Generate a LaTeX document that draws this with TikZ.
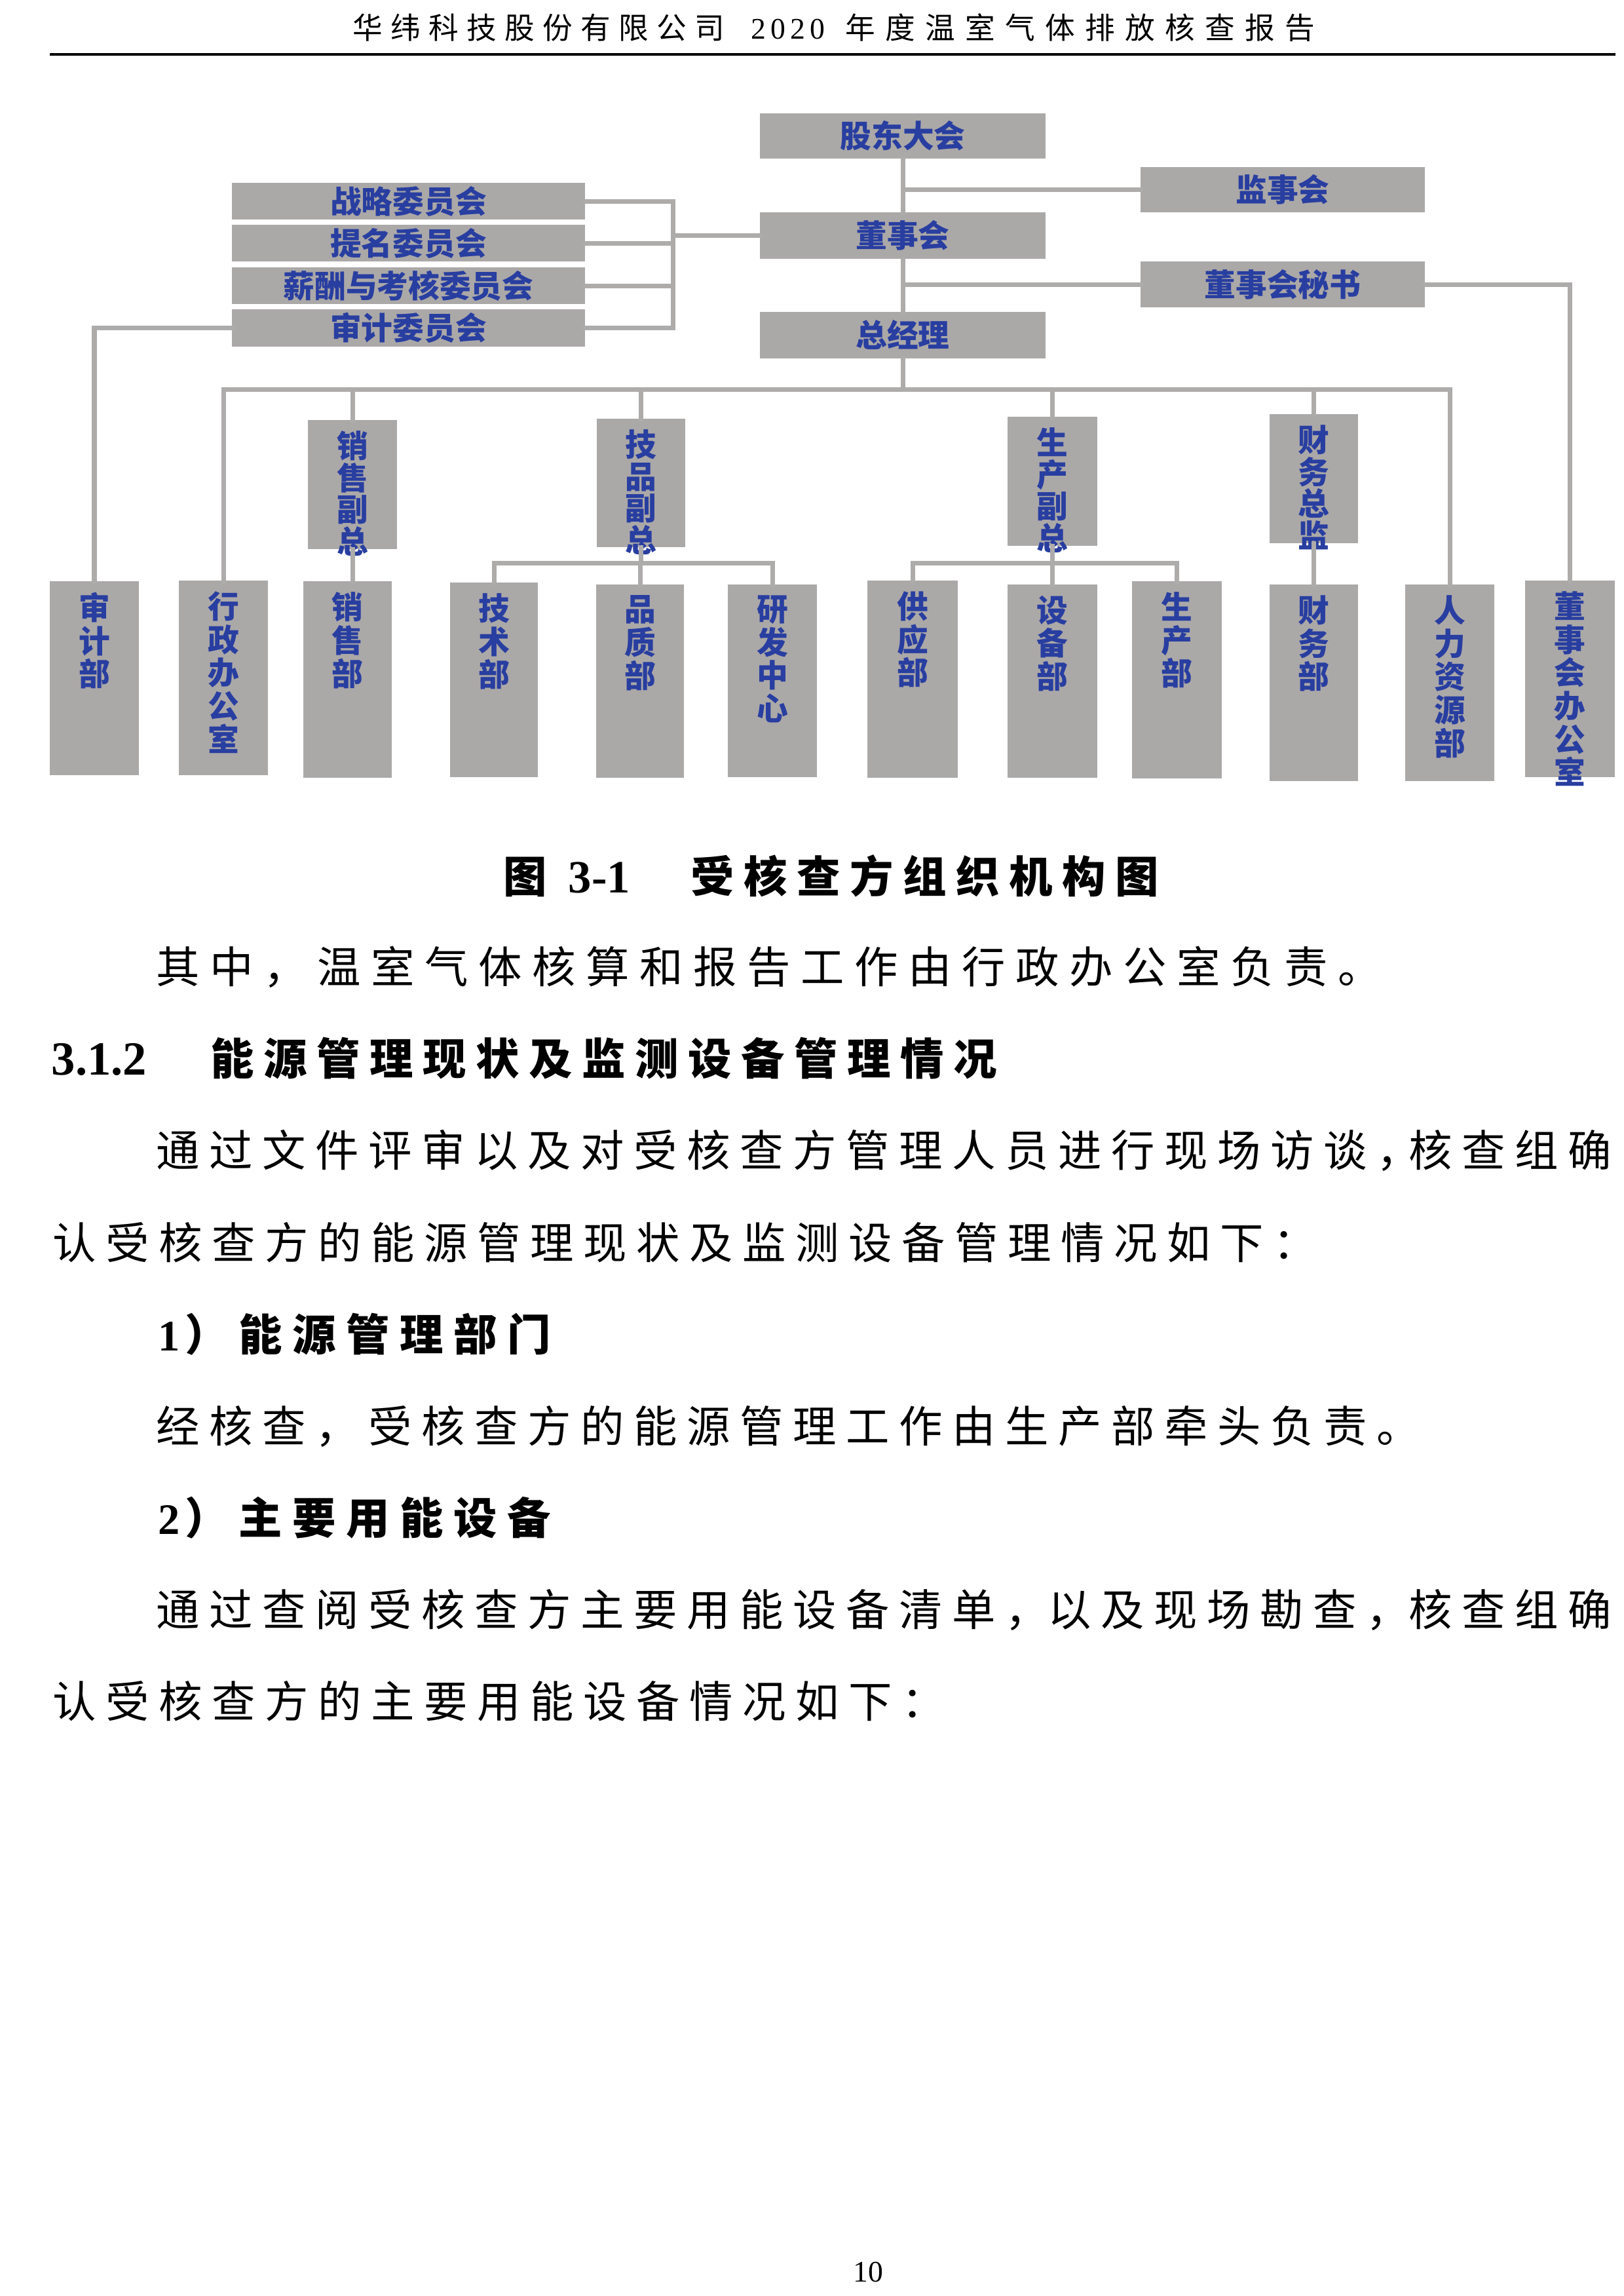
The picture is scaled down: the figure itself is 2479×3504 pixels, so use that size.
\documentclass[tikz,border=0pt]{standalone}
\usepackage{fontspec}
\setmainfont{Liberation Serif}
\newfontfamily\cjk{Noto Sans CJK SC}
\usetikzlibrary{fit,calc}
\definecolor{boxgray}{RGB}{171,168,168}
\definecolor{linegray}{RGB}{174,171,171}
\definecolor{lblue}{RGB}{40,62,160}
\newdimen\pxunit \pxunit=0.0846667mm
\newdimen\spreadpitch
\def\spreadstopm{\spreadstop}
\def\spreadtext#1#2{\spreadpitch=#1\pxunit\relax\spreadaux#2\spreadstop}
\def\spreadaux#1{\def\spreadtmp{#1}\ifx\spreadtmp\spreadstopm\else\makebox[\spreadpitch][l]{#1}\expandafter\spreadaux\fi}
\newcommand\vdept[7]{%
  \node[box, fit={(#3,#4)(#5,#6)}] (#2) {};
  \node[#1] (#2-t) at ($(#2.north)+(0,16)$) {#7};}
\newcommand\hdept[6]{%
  \node[box, fit={(#2,#3)(#4,#5)}] (#1) {};
  \node[hlab] (#1-t) at ($(#1.center)+(0,18)$) {#6};}
\begin{document}
\begin{tikzpicture}[x=0.0846667mm, y=-0.0846667mm,
  box/.style={fill=boxgray, inner sep=0pt, outer sep=0pt},
  hlab/.style={text=lblue, font=\cjk\bfseries\fontsize{11.5}{13}\selectfont, anchor=base, inner sep=0pt},
  vlab/.style={text=lblue, font=\cjk\bfseries\fontsize{11.5}{12.2}\selectfont, align=center, anchor=north, inner sep=0pt},
  vplab/.style={text=lblue, font=\cjk\bfseries\fontsize{11.5}{11.7}\selectfont, align=center, anchor=north, inner sep=0pt},
  conn/.style={draw=linegray, line width=0.593mm, line cap=rect},
  bodytxt/.style={anchor=base west, inner sep=0pt, font=\cjk\fontsize{16}{19}\selectfont},
  headtxt/.style={anchor=base west, inner sep=0pt, font=\cjk\bfseries\fontsize{16}{19}\selectfont},
  numtxt/.style={anchor=base west, inner sep=0pt, font=\bfseries\fontsize{17}{20}\selectfont},
  hdrtxt/.style={anchor=base west, inner sep=0pt, font=\cjk\fontsize{11}{13}\selectfont}]
\fill[white] (0,0) rectangle (2479,3504);
\path[use as bounding box] (0,0) rectangle (2479,3504);

% header
\node[hdrtxt] (hdr1) at (538,59) {\spreadtext{58}{华纬科技股份有限公司}};
\node[anchor=base west, inner sep=0pt, font=\fontsize{11}{13}\selectfont] (hdr2) at (1146,59) {\spreadtext{30}{2020}};
\node[hdrtxt] (hdr3) at (1290,59) {\spreadtext{61}{年度温室气体排放核查报告}};
\coordinate (hlA) at (76,83);
\coordinate (hlB) at (2466,83);
\draw[line width=0.34mm] (hlA) -- (hlB);

% top boxes
\hdept{gd}{1160}{173}{1596}{242}{股东大会}
\hdept{jsh}{1741}{255}{2175}{324}{监事会}
\hdept{dsh}{1160}{324}{1596}{395}{董事会}
\hdept{msh}{1741}{399}{2175}{469}{董事会秘书}
\hdept{zjl}{1160}{476}{1596}{547}{总经理}
\hdept{zl}{354}{279}{893}{335}{战略委员会}
\hdept{tm}{354}{343}{893}{399}{提名委员会}
\hdept{xc}{354}{408}{893}{464}{薪酬与考核委员会}
\hdept{sj}{354}{472}{893}{529}{审计委员会}

% vice presidents
\vdept{vplab}{xsf}{470}{641}{606}{838}{销\\售\\副\\总}
\vdept{vplab}{jpf}{911}{639}{1046}{835}{技\\品\\副\\总}
\vdept{vplab}{scf}{1538}{636}{1675}{833}{生\\产\\副\\总}
\vdept{vplab}{cwz}{1938}{632}{2073}{829}{财\\务\\总\\监}

% departments
\vdept{vlab}{sjb}{76}{887}{212}{1183}{审\\计\\部}
\vdept{vlab}{xzb}{273}{886}{409}{1183}{行\\政\\办\\公\\室}
\vdept{vlab}{xsb}{463}{887}{598}{1187}{销\\售\\部}
\vdept{vlab}{jsb}{687}{889}{821}{1186}{技\\术\\部}
\vdept{vlab}{pzb}{910}{892}{1044}{1187}{品\\质\\部}
\vdept{vlab}{yfz}{1111}{892}{1247}{1186}{研\\发\\中\\心}
\vdept{vlab}{gyb}{1324}{886}{1462}{1187}{供\\应\\部}
\vdept{vlab}{sbb}{1538}{892}{1675}{1187}{设\\备\\部}
\vdept{vlab}{scb}{1728}{887}{1865}{1188}{生\\产\\部}
\vdept{vlab}{cwb}{1938}{892}{2073}{1192}{财\\务\\部}
\vdept{vlab}{rlb}{2145}{892}{2281}{1192}{人\\力\\资\\源\\部}
\vdept{vlab}{dbs}{2328}{886}{2465}{1186}{董\\事\\会\\办\\公\\室}

% connectors
\coordinate (brt) at (1027,307);
\coordinate (busL) at (341,594);
\coordinate (busR) at (2213,594);
\coordinate (jbus) at (980,859);
\draw[conn] (gd.south) -- (dsh.north);
\draw[conn] (gd.south |- jsh.west) -- (jsh.west);
\draw[conn] (dsh.south) -- (zjl.north);
\draw[conn] (dsh.south |- msh.west) -- (msh.west);
\draw[conn] (msh.east) -| (dbs.north);
\foreach \n in {zl,tm,xc,sj} \draw[conn] (\n.east) -- (\n.east -| brt);
\draw[conn] (zl.east -| brt) -- (sj.east -| brt);
\draw[conn] (dsh.west) -- (dsh.west -| brt);
\draw[conn] (sj.west) -| (sjb.north);
\draw[conn] (zjl.south) -- (zjl.south |- busL);
\draw[conn] (busL) -- (busR);
\draw[conn] (busL) -- (xzb.north);
\draw[conn] (busR) -- (rlb.north);
\foreach \n in {xsf,jpf,scf,cwz} \draw[conn] (\n.north |- busL) -- (\n.north);
\draw[conn] (xsf.south) -- (xsf.south |- xsb.north);
\draw[conn] (cwz.south) -- (cwb.north);
\draw[conn] (jpf.south) -- (jpf.south |- jbus);
\draw[conn] (jsb.north |- jbus) -- (yfz.north |- jbus);
\foreach \n in {jsb,pzb,yfz} \draw[conn] (\n.north |- jbus) -- (\n.north);
\draw[conn] (scf.south) -- (scf.south |- jbus);
\draw[conn] (gyb.north |- jbus) -- (scb.north |- jbus);
\foreach \n in {gyb,sbb,scb} \draw[conn] (\n.north |- jbus) -- (\n.north);

% caption
\node[headtxt] (cap1) at (768,1362) {图};
\node[numtxt] (cap2) at (867,1362) {3-1};
\node[headtxt] (cap3) at (1054,1362) {\spreadtext{81}{受核查方组织机构图}};

% body
\node[bodytxt] (t1) at (238,1500) {\spreadtext{82}{其中，温室气体核算和报告工作由行政办公室负责。}};
\node[numtxt, font=\bfseries\fontsize{17.5}{20}\selectfont] (h1) at (78,1640) {3.1.2};
\node[headtxt] (h2) at (321,1640) {\spreadtext{81}{能源管理现状及监测设备管理情况}};
\node[bodytxt] (t3) at (238,1780) {\spreadtext{81}{通过文件评审以及对受核查方管理人员进行现场访谈}\makebox[49\pxunit][l]{，}\spreadtext{81}{核查组确}};
\node[bodytxt] (t4) at (80,1921) {\spreadtext{81}{认受核查方的能源管理现状及监测设备管理情况如下：}};
\node[numtxt, font=\bfseries\fontsize{16}{19}\selectfont] (s1a) at (241,2061) {1};
\node[headtxt] (s1b) at (282,2061) {\spreadtext{82}{）能源管理部门}};
\node[bodytxt] (t6) at (238,2201) {\spreadtext{81}{经核查，受核查方的能源管理工作由生产部牵头负责。}};
\node[numtxt, font=\bfseries\fontsize{16}{19}\selectfont] (s2a) at (241,2341) {2};
\node[headtxt] (s2b) at (282,2341) {\spreadtext{82}{）主要用能设备}};
\node[bodytxt] (t8) at (238,2481) {\spreadtext{81}{通过查阅受核查方主要用能设备清单}\makebox[65\pxunit][l]{，}\spreadtext{81}{以及现场勘查}\makebox[65\pxunit][l]{，}\spreadtext{81}{核查组确}};
\node[bodytxt] (t9) at (80,2621) {\spreadtext{81}{认受核查方的主要用能设备情况如下：}};

% page number
\node[anchor=base, inner sep=0pt, font=\fontsize{11}{13}\selectfont] (pg) at (1325,3482) {10};
\end{tikzpicture}
\end{document}
